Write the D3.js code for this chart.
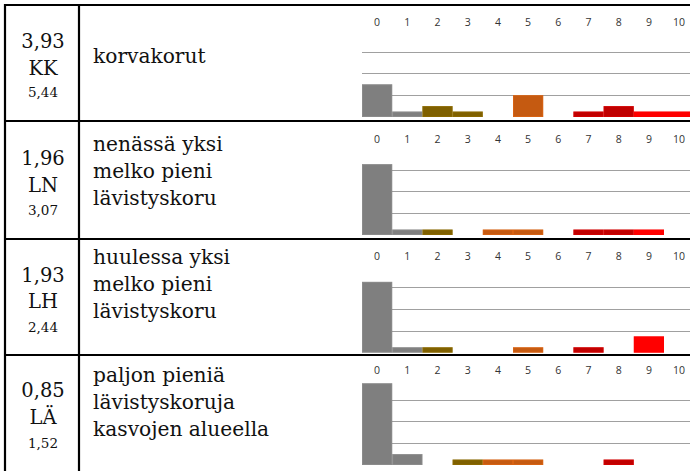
<!DOCTYPE html>
<html><head><meta charset="utf-8">
<script src="https://cdn.jsdelivr.net/npm/d3@7"></script>
<style>html,body{margin:0;padding:0;background:#fff;}svg{display:block;}</style>
</head><body>
<svg id="c" width="690" height="471"></svg>
<script>
// ---- data ----
const categories = ["0","1","2","3","4","5","6","7","8","9","10"];
const rowCodes = ["KK","LN","LH","LÄ"];
const rowMeans = ["3,93","1,96","1,93","0,85"];
const rowSecond = ["5,44","3,07","2,44","1,52"];
const rowLabels = [
  ["korvakorut"],
  ["nenässä yksi","melko pieni","lävistyskoru"],
  ["huulessa yksi","melko pieni","lävistyskoru"],
  ["paljon pieniä","lävistyskoruja","kasvojen alueella"]
];
const valuesKK = [6,1,2,1,0,4,0,1,2,1,1];
const valuesLN = [13,1,1,0,1,1,0,1,1,1,0];
const valuesLH = [13,1,1,0,0,1,0,1,0,3,0];
const valuesLA = [15,2,0,1,1,1,0,0,1,0,0];
const rowValues = [valuesKK, valuesLN, valuesLH, valuesLA];
const gridTicks = [4,8,12];

// ---- layout / style ----
const catColors = ["#7f7f7f","#7f7f7f","#7f6000","#7f6000","#c55a11","#c55a11","#c55a11","#c00000","#c00000","#ff0000","#ff0000"];
const rowTops = [5,121,239,355];
const rowBottom = 473;
const baselines = [117,235,352.7,465];
const tickY = [25.5,143,260,373.5];
const firstTextBase = [[47.7,75,96.7],[165,191.7,215],[281.7,308.3,331.7],[396.7,424.3,448.3]];
const labelBase = [62.7,150.7,264,382];
const lineGap = 27;
const pxPerUnit = 5.45;

const svg = d3.select("#c");
const x = d3.scaleBand().domain(categories).range([362, 362 + 30.2*11]).padding(0);

rowValues.forEach((vals, r) => {
  const g = svg.append("g");
  const y = d3.scaleLinear().domain([0,16]).range([baselines[r], baselines[r] - 16*pxPerUnit]);
  g.selectAll("line.grid").data(gridTicks).join("line")
    .attr("x1", x.range()[0]).attr("x2", 690)
    .attr("y1", d => Math.round(y(d)) + 0.5).attr("y2", d => Math.round(y(d)) + 0.5)
    .attr("stroke", "#a0a0a0").attr("stroke-width", 1);
  const bars = vals.map((v,i)=>({c:categories[i], v, i})).filter(d=>d.v>0);
  g.selectAll("rect.bar").data(bars).join("rect")
    .attr("x", d => x(d.c)).attr("width", x.bandwidth())
    .attr("y", d => y(d.v)).attr("height", d => y(0) - y(d.v))
    .attr("fill", d => catColors[d.i]);
  g.selectAll("rect.edge").data(bars).join("rect")
    .attr("x", d => x(d.c)+0.5).attr("width", x.bandwidth()-1)
    .attr("y", d => y(d.v)+0.5).attr("height", d => y(0) - y(d.v) - 1)
    .attr("fill", "none").attr("stroke", d => d3.color(catColors[d.i]).brighter(0.6)).attr("stroke-opacity",0.4).attr("stroke-width",1);
  g.selectAll("text.tick").data(categories).join("text")
    .attr("x", d => x(d) + x.bandwidth()/2).attr("y", tickY[r])
    .attr("text-anchor","middle").attr("font-family","'Open Sans', 'Liberation Sans', sans-serif")
    .attr("font-size", 10.5).attr("fill","#333").text(d => d);
  const cx = 43;
  g.append("text").attr("x",cx).attr("y",firstTextBase[r][0]).attr("text-anchor","middle")
    .attr("font-family","'DejaVu Serif', serif").attr("font-size",19.5).attr("fill","#111").text(rowMeans[r]);
  g.append("text").attr("x",cx).attr("y",firstTextBase[r][1]).attr("text-anchor","middle")
    .attr("font-family","'DejaVu Serif', serif").attr("font-size",19.5).attr("fill","#111").text(rowCodes[r]);
  g.append("text").attr("x",cx).attr("y",firstTextBase[r][2]).attr("text-anchor","middle")
    .attr("font-family","'DejaVu Serif', serif").attr("font-size",13.5).attr("fill","#111").text(rowSecond[r]);
  g.selectAll("text.desc").data(rowLabels[r]).join("text")
    .attr("x", 93).attr("y", (d,i) => labelBase[r] + i*lineGap)
    .attr("font-family","'DejaVu Serif', serif").attr("font-size",20.2).attr("fill","#111").text(d=>d);
});

const b = svg.append("g").attr("stroke","#000").attr("stroke-width",2.2);
rowTops.forEach(t => b.append("line").attr("x1",4).attr("x2",690).attr("y1",t).attr("y2",t));
b.append("line").attr("x1",5).attr("x2",5).attr("y1",4).attr("y2",rowBottom);
b.append("line").attr("x1",79).attr("x2",79).attr("y1",4).attr("y2",rowBottom);
</script>
</body></html>
